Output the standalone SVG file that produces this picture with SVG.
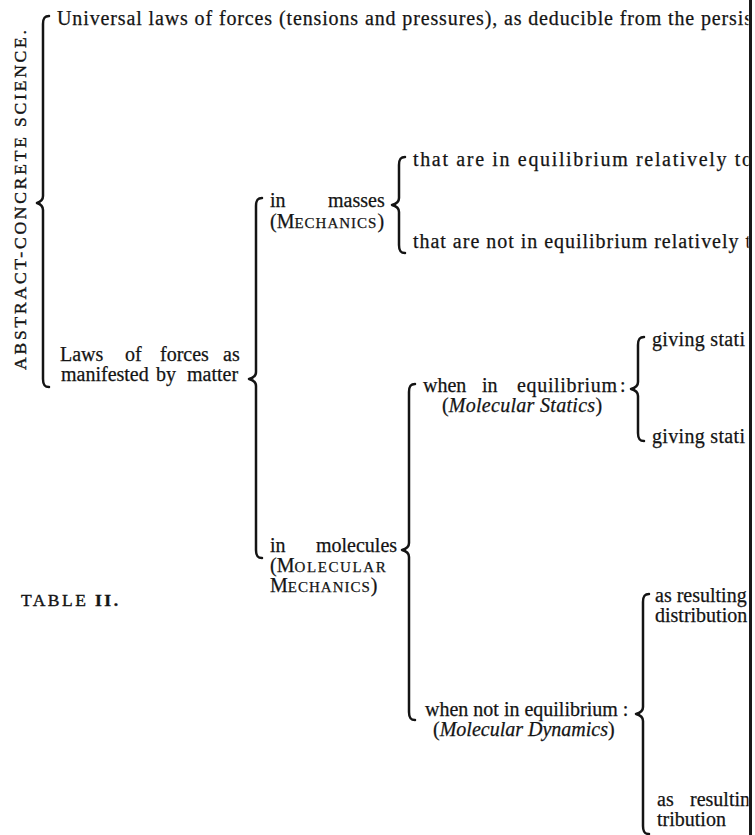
<svg xmlns="http://www.w3.org/2000/svg" width="755" height="835" viewBox="0 0 755 835">
<style>
.t{font-family:"Liberation Serif","Times New Roman",serif;font-size:20px;fill:#141414;stroke:#141414;stroke-width:0.25}
.i{font-style:italic}
.sc{font-size:15px}
.cap{font-family:"Liberation Serif","Times New Roman",serif;font-size:17.5px;fill:#141414;stroke:#141414;stroke-width:0.4}
.br{fill:none;stroke:#141414;stroke-width:2.5;stroke-linecap:round;stroke-linejoin:round}
</style>
<defs>
<clipPath id="page"><rect x="0" y="0" width="748.5" height="835"/></clipPath>
</defs>
<rect x="0" y="0" width="755" height="835" fill="#ffffff"/>
<rect x="749" y="0" width="3" height="835" fill="#1a1a1a"/>

<g clip-path="url(#page)">
<g id="title">
<text class="cap" transform="translate(26,370) rotate(-90)" textLength="340" lengthAdjust="spacing">ABSTRACT-CONCRETE SCIENCE.</text>
</g>
<g id="table-label">
<text class="cap" x="21" y="606" font-size="18" textLength="97" lengthAdjust="spacing">TABLE <tspan font-weight="bold">II.</tspan></text>
</g>
<g id="universal-laws">
<text class="t" x="57" y="25" textLength="695" lengthAdjust="spacing">Universal laws of forces (tensions and pressures), as deducible from the persis</text>
</g>
<g id="laws-matter">
<text class="t"><tspan x="60" y="361">Laws</tspan><tspan x="125" y="361">of</tspan><tspan x="160" y="361">forces</tspan><tspan x="223" y="361">as</tspan><tspan x="61" y="381">manifested</tspan><tspan x="156" y="381">by</tspan><tspan x="187" y="381">matter</tspan></text>
</g>
<g id="in-masses">
<text class="t"><tspan x="270" y="207">in</tspan><tspan x="328" y="207">masses</tspan><tspan x="270" y="228">(M</tspan><tspan class="sc" letter-spacing="1">ECHANICS</tspan><tspan>)</tspan></text>
</g>
<g id="masses-equilibrium">
<text class="t" x="413" y="166" textLength="339" lengthAdjust="spacing">that are in equilibrium relatively to</text>
</g>
<g id="masses-not-equilibrium">
<text class="t" x="413" y="248" textLength="338" lengthAdjust="spacing">that are not in equilibrium relatively t</text>
</g>
<g id="in-molecules">
<text class="t"><tspan x="270" y="552">in</tspan><tspan x="316" y="552">molecules</tspan><tspan x="270" y="572">(M</tspan><tspan class="sc" letter-spacing="1.6">OLECULAR</tspan><tspan x="270" y="592">M</tspan><tspan class="sc" letter-spacing="1">ECHANICS</tspan><tspan>)</tspan></text>
</g>
<g id="molecular-statics">
<text class="t"><tspan x="423" y="392">when</tspan><tspan x="482" y="392">in</tspan><tspan x="517" y="392" textLength="100" lengthAdjust="spacing">equilibrium</tspan><tspan x="620" y="392">:</tspan><tspan x="442" y="412">(</tspan><tspan class="i" letter-spacing="0.3">Molecular Statics</tspan><tspan>)</tspan></text>
</g>
<g id="statics-1">
<text class="t" x="652" y="346" textLength="93" lengthAdjust="spacing">giving stati</text>
</g>
<g id="statics-2">
<text class="t" x="652" y="443" textLength="93" lengthAdjust="spacing">giving stati</text>
</g>
<g id="molecular-dynamics">
<text class="t"><tspan x="425" y="716">when not in equilibrium :</tspan><tspan x="433" y="736">(</tspan><tspan class="i">Molecular Dynamics</tspan><tspan>)</tspan></text>
</g>
<g id="dynamics-1">
<text class="t"><tspan x="655" y="602">as resulting</tspan><tspan x="655" y="622">distribution</tspan></text>
</g>
<g id="dynamics-2">
<text class="t"><tspan x="657" y="806">as</tspan><tspan x="690" y="806">resultin</tspan><tspan x="657" y="826">tribution</tspan></text>
</g>
</g>

<g id="connectors">
<path class="br" d="M49,16 C44,16 43,19 43,24 L43,196 C43,200 40,202 37,203 C40,204 43,206 43,210 L43,379 C43,384 44,387 49,387"/>
<path class="br" d="M262,198 C257,198 256,201 256,206 L256,372 C256,376 253,378 249,379 C253,380 256,382 256,386 L256,550 C256,555 257,558 262,558"/>
<path class="br" d="M405,157 C400,157 399,160 399,165 L399,198 C399,202 396,204 392,205 C396,206 399,208 399,212 L399,245 C399,250 400,253 405,253"/>
<path class="br" d="M415,384 C410,384 409,387 409,392 L409,543 C409,547 406,549 402,550 C406,551 409,553 409,557 L409,712 C409,717 410,720 415,720"/>
<path class="br" d="M644,337 C639,337 638,340 638,345 L638,382 C638,386 635,388 631,389 C635,390 638,392 638,396 L638,433 C638,438 639,441 644,441"/>
<path class="br" d="M649,594 C644,594 643,597 643,602 L643,707 C643,711 640,713 636,714 C640,715 643,717 643,721 L643,826 C643,831 644,834 649,834"/>
</g>
</svg>
